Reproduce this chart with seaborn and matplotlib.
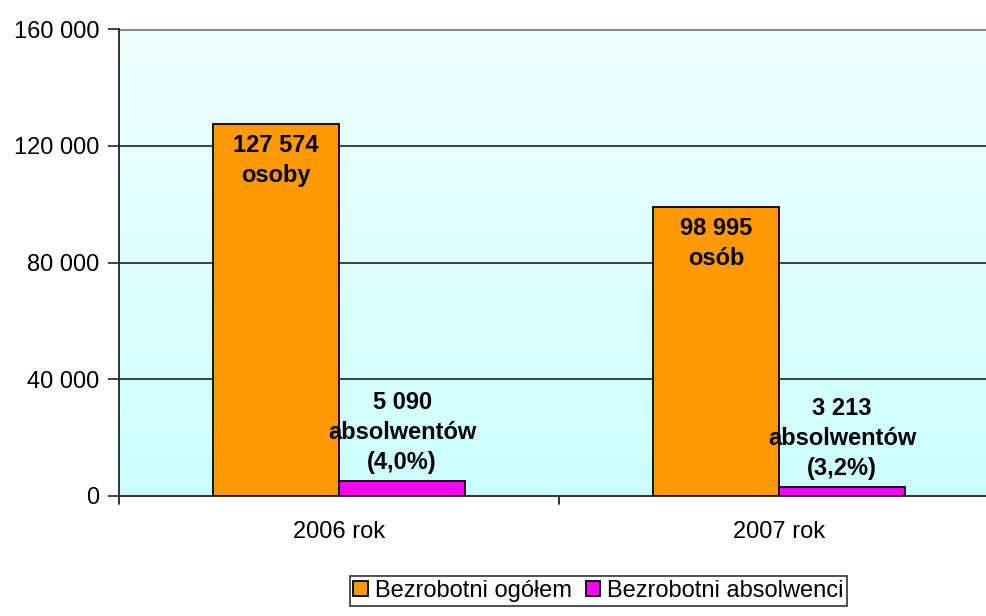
import numpy as np
import pandas as pd
import seaborn as sns
import matplotlib.pyplot as plt
from matplotlib.colors import LinearSegmentedColormap
from matplotlib.ticker import FuncFormatter

# dane
lata = ["2006 rok", "2007 rok"]
serie = ["Bezrobotni ogółem", "Bezrobotni absolwenci"]
ogolem = [127574, 98995]
absolwenci = [5090, 3213]
etykiety_ogolem = ["127 574\nosoby", "98 995\nosób"]
etykiety_absolwenci = ["5 090\nabsolwentów\n(4,0%)", "3 213\nabsolwentów\n(3,2%)"]
kolory = ["#FF9900", "#FF00FF"]

df = pd.DataFrame({
    "rok": lata * 2,
    "seria": [serie[0]] * 2 + [serie[1]] * 2,
    "wartosc": ogolem + absolwenci,
})

sns.set_style("white")
plt.rcParams["font.family"] = ["Liberation Sans", "DejaVu Sans"]
plt.rcParams["text.color"] = "black"
plt.rcParams["xtick.color"] = "black"
plt.rcParams["ytick.color"] = "black"

FS = 17

fig = plt.figure(figsize=(9.86, 6.16), dpi=100)
# obszar wykresu wychodzi poza prawa krawedz obrazka
ax = fig.add_axes([119 / 986, 120 / 616, 880 / 986, 467 / 616])

# tlo z gradientem
grad = np.linspace(0, 1, 256).reshape(-1, 1)
cmap = LinearSegmentedColormap.from_list("tlo", ["#F0FFFF", "#CCFFFF"])
ax.imshow(grad, extent=[0, 1, 0, 1], transform=ax.transAxes, aspect="auto",
          cmap=cmap, zorder=0)

sns.barplot(data=df, x="rok", y="wartosc", hue="seria", palette=kolory,
            saturation=1, width=0.574, edgecolor="black", linewidth=1.3,
            ax=ax, zorder=3)

ax.set_xlim(-0.5, 1.5)
ax.set_ylim(0, 160000)
ax.set_yticks([0, 40000, 80000, 120000, 160000])
ax.yaxis.set_major_formatter(FuncFormatter(lambda v, p: f"{int(v):,}".replace(",", " ")))
for y in [40000, 80000, 120000]:
    ax.axhline(y, color="#222222", lw=1.2, zorder=1)
ax.axhline(160000, color="#888888", lw=2.2, zorder=1)

ax.set_xlabel("")
ax.set_ylabel("")
for s in ["top", "right"]:
    ax.spines[s].set_visible(False)
for s in ["left", "bottom"]:
    ax.spines[s].set_color("#222222")
    ax.spines[s].set_linewidth(1.3)

ax.tick_params(axis="y", length=8, width=1.2, color="#222222", labelsize=FS, pad=6, left=True)
ax.set_xticks([0, 1])
ax.set_xticklabels(lata, fontsize=FS)
ax.tick_params(axis="x", length=0, pad=18)
for xb in [-0.5, 0.5]:
    ax.plot([xb, xb], [0, -0.018], transform=ax.get_xaxis_transform(), color="#222222",
            lw=1.3, clip_on=False)

# etykiety
szer = 0.287
for i in range(2):
    ax.text(i - szer / 2, ogolem[i] - 3500, etykiety_ogolem[i], ha="center", va="top",
            fontsize=FS, fontweight="bold", linespacing=1.4, zorder=5)
    ax.text(i + szer / 2, absolwenci[i] + 2300, etykiety_absolwenci[i], ha="center",
            va="bottom", fontsize=FS, fontweight="bold", linespacing=1.4, zorder=5)

leg = ax.legend(loc="center", bbox_to_anchor=((598.5 - 119) / 880, -(591 - 496) / 467),
                ncol=2, frameon=True, fontsize=FS, handlelength=0.6, handleheight=0.6,
                handletextpad=0.3, columnspacing=0.6, borderpad=0.15, fancybox=False)
leg.get_frame().set_edgecolor("black")
leg.get_frame().set_linewidth(1.2)

fig.savefig("out.png", dpi=100)
